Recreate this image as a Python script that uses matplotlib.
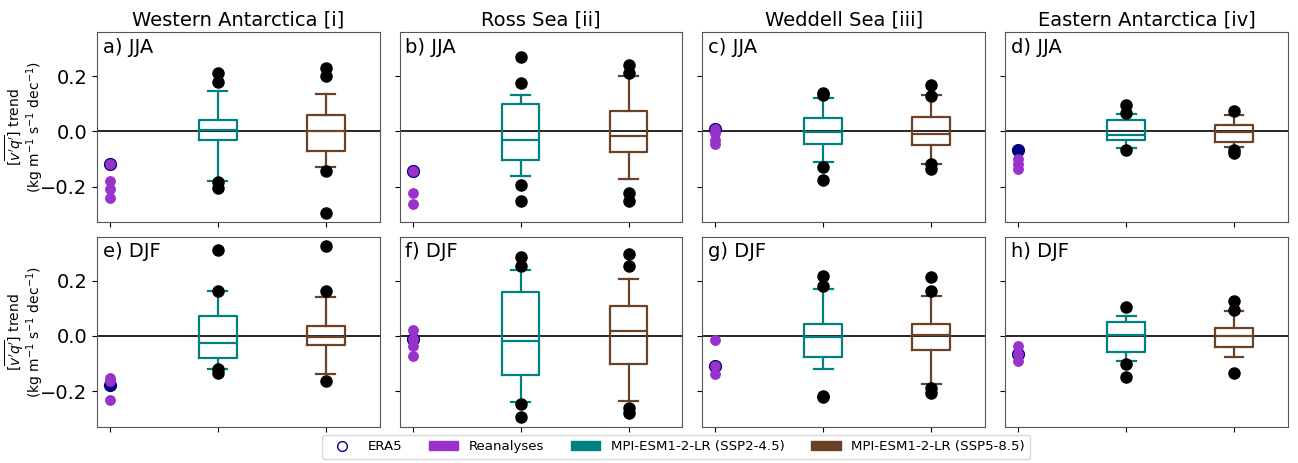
import matplotlib
matplotlib.use("Agg")
import matplotlib.pyplot as plt
from matplotlib.lines import Line2D
from matplotlib.patches import Patch

regions = ["Western Antarctica [i]", "Ross Sea [ii]", "Weddell Sea [iii]", "Eastern Antarctica [iv]"]
seasons = ["JJA", "DJF"]
panel_letters = [["a", "b", "c", "d"], ["e", "f", "g", "h"]]

# ERA5 value per panel (row = season, column = region)
era5 = [[-0.118, -0.142, 0.010, -0.069],
        [-0.177, -0.010, -0.109, -0.066]]

# other reanalyses
reanalyses = [[[-0.118, -0.180, -0.210, -0.240], [-0.142, -0.225, -0.263],
               [0.010, -0.005, -0.030, -0.045], [-0.100, -0.117, -0.136]],
              [[-0.154, -0.164, -0.231], [0.022, -0.010, -0.035, -0.072],
               [-0.014, -0.109, -0.139], [-0.036, -0.066, -0.092]]]

# box stats: (whislo, q1, med, q3, whishi)
ssp245_box = [[(-0.181, -0.030, 0.006, 0.042, 0.146), (-0.163, -0.105, -0.030, 0.100, 0.130),
               (-0.111, -0.046, -0.001, 0.047, 0.122), (-0.061, -0.033, -0.014, 0.041, 0.063)],
              [(-0.120, -0.080, -0.024, 0.072, 0.162), (-0.240, -0.140, -0.017, 0.159, 0.240),
               (-0.120, -0.078, -0.004, 0.042, 0.169), (-0.090, -0.060, 0.004, 0.051, 0.073)]]
ssp245_fliers = [[[0.211, 0.180, -0.184, -0.207], [0.271, 0.175, -0.193, -0.254],
                  [0.139, 0.130, -0.130, -0.178], [0.096, 0.066, -0.066]],
                 [[0.311, 0.162, -0.121, -0.134], [0.287, 0.254, -0.246, -0.295],
                  [0.216, 0.180, -0.219, -0.222], [0.104, -0.102, -0.149]]]

ssp585_box = [[(-0.128, -0.072, 0.002, 0.059, 0.135), (-0.171, -0.075, -0.016, 0.072, 0.200),
               (-0.117, -0.051, -0.010, 0.051, 0.130), (-0.058, -0.039, -0.003, 0.023, 0.060)],
              [(-0.138, -0.034, -0.004, 0.035, 0.140), (-0.236, -0.103, 0.019, 0.110, 0.205),
               (-0.176, -0.051, 0.005, 0.042, 0.143), (-0.078, -0.042, -0.002, 0.030, 0.091)]]
ssp585_fliers = [[[0.231, 0.199, -0.145, -0.295], [0.240, 0.210, -0.224, -0.254],
                  [0.166, 0.129, -0.120, -0.136], [0.075, -0.066, -0.080]],
                 [[0.327, 0.162, -0.163], [0.297, 0.254, -0.260, -0.278],
                  [0.212, 0.163, -0.188, -0.206], [0.128, 0.093, -0.135]]]

c_rean = "#9932CC"
c_era5 = "navy"
c_245 = "#008080"
c_585 = "#6B4226"


def stats(box, fl):
    lo, q1, med, q3, hi = box
    return dict(whislo=lo, q1=q1, med=med, q3=q3, whishi=hi, fliers=fl)


fig, axes = plt.subplots(2, 4, figsize=(12.98, 4.63), dpi=100, sharey=True)
fig.subplots_adjust(left=0.0747, right=0.9923, top=0.931, bottom=0.0778, wspace=0.0707, hspace=0.074)

for r in range(2):
    for c in range(4):
        ax = axes[r, c]
        ax.axhline(0, color="k", lw=1.2, zorder=1)

        for pos, box, fl, col in [(2, ssp245_box, ssp245_fliers, c_245), (3, ssp585_box, ssp585_fliers, c_585)]:
            lp = dict(color=col, lw=1.6)
            ax.bxp([stats(box[r][c], fl[r][c])], positions=[pos], widths=0.35,
                   boxprops=lp, whiskerprops=lp, capprops=lp, medianprops=lp,
                   flierprops=dict(marker="o", markerfacecolor="k", markeredgecolor="k", markersize=8),
                   manage_ticks=False)

        ax.plot([1], [era5[r][c]], "o", color=c_era5, markersize=8.5, zorder=3)
        ax.plot([1] * len(reanalyses[r][c]), reanalyses[r][c], "o", color=c_rean,
                markeredgewidth=0, markersize=7.8, zorder=4)

        ax.set_xlim(0.88, 3.5)
        ax.set_ylim(-0.33, 0.36)
        ax.set_xticks([1, 2, 3])
        ax.set_xticklabels([])
        ax.set_yticks([-0.2, 0.0, 0.2])
        ax.tick_params(labelsize=14)
        for s in ax.spines.values():
            s.set_color("#555555")
        ax.text(0.02, 0.97, f"{panel_letters[r][c]}) {seasons[r]}", transform=ax.transAxes,
                ha="left", va="top", fontsize=14)
        if r == 0:
            ax.set_title(regions[c], fontsize=14, pad=5)
    axes[r, 0].set_ylabel("[$\\overline{v^{\\prime}q^{\\prime}}$] trend\n(kg m$^{-1}$ s$^{-1}$ dec$^{-1}$)",
                          fontsize=10, linespacing=0.9)
    axes[r, 0].yaxis.set_label_coords(-0.18, 0.5)

handles = [Line2D([], [], marker="o", linestyle="none", markerfacecolor="none",
                  markeredgecolor=c_era5, markersize=7),
           Patch(color=c_rean), Patch(color=c_245), Patch(color=c_585)]
labels = ["ERA5", "Reanalyses", "MPI-ESM1-2-LR (SSP2-4.5)", "MPI-ESM1-2-LR (SSP5-8.5)"]
fig.legend(handles, labels, loc="lower center", bbox_to_anchor=(0.521, -0.005), ncol=4,
           fontsize=9.6, frameon=True, handlelength=2.2, columnspacing=2.0)

fig.savefig("out.png", dpi=100)
